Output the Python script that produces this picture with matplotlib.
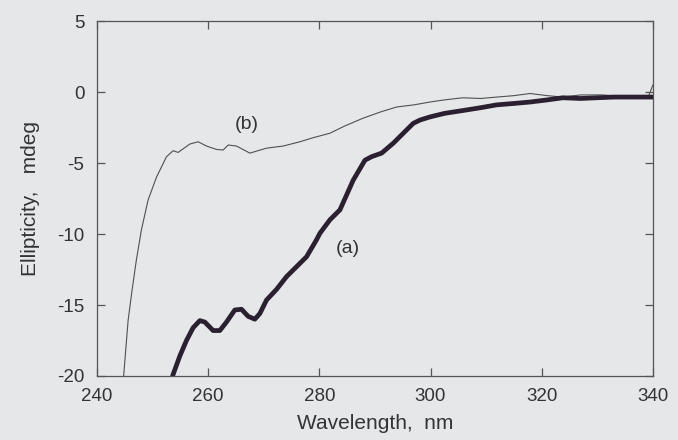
import numpy as np
import matplotlib
matplotlib.use("Agg")
import matplotlib.pyplot as plt

plt.rcParams['font.family'] = ['Liberation Sans', 'DejaVu Sans']
plt.rcParams['axes.unicode_minus'] = False

# curve (a), thick
a_x = [253.6, 254.9, 256.1, 257.3, 258.5, 259.4, 260.9, 262.1, 263.3, 264.8, 266.0, 267.2,
       268.4, 269.3, 270.5, 272.3, 274.1, 275.9, 277.7, 279.5, 280.1, 281.9, 283.7, 286.1,
       288.2, 289.4, 291.2, 293.3, 295.1, 296.9, 298.1, 299.9, 302.5, 305.8, 309.0, 311.9,
       315.0, 317.9, 321.0, 323.8, 327.0, 329.9, 333.0, 336.0, 339.5, 340.0]
a_y = [-20.0, -18.6, -17.5, -16.6, -16.1, -16.2, -16.8, -16.8, -16.2, -15.35, -15.3, -15.8,
       -16.0, -15.6, -14.65, -13.9, -13.0, -12.3, -11.6, -10.4, -9.95, -9.0, -8.3, -6.2,
       -4.8, -4.55, -4.3, -3.6, -2.9, -2.2, -1.97, -1.75, -1.5, -1.3, -1.1, -0.9,
       -0.8, -0.7, -0.55, -0.4, -0.45, -0.4, -0.35, -0.35, -0.35, -0.35]

# curve (b), thin
b_x = [244.8, 245.6, 246.3, 247.1, 248.0, 249.2, 250.7, 252.5, 253.7, 254.6, 256.7, 258.2,
       259.7, 261.5, 262.7, 263.6, 265.1, 267.5, 270.5, 273.5, 276.5, 279.0, 281.9, 284.5,
       287.8, 291.0, 293.9, 297.0, 299.9, 302.5, 305.8, 309.0, 311.9, 315.0, 317.9, 321.0,
       323.8, 327.0, 331.0, 334.0, 336.0, 338.2, 339.2, 340.0]
b_y = [-20.0, -16.1, -14.0, -11.8, -9.7, -7.6, -6.0, -4.56, -4.13, -4.25, -3.66, -3.5,
       -3.8, -4.04, -4.08, -3.73, -3.8, -4.3, -3.95, -3.8, -3.5, -3.2, -2.9, -2.4,
       -1.85, -1.4, -1.05, -0.9, -0.7, -0.55, -0.4, -0.45, -0.35, -0.25, -0.1, -0.25,
       -0.35, -0.2, -0.2, -0.3, -0.3, -0.35, -0.3, 0.5]

xticks = [240, 260, 280, 300, 320, 340]
yticks = [5, 0, -5, -10, -15, -20]

bg = '#e5e7e9'
fig = plt.figure(figsize=(6.78, 4.40), dpi=100, facecolor=bg)
ax = fig.add_axes([0.143, 0.1455, 0.820, 0.8065])
ax.set_facecolor(bg)

ax.plot(b_x, b_y, color='#505050', lw=0.8)
ax.plot(a_x, a_y, color='#2a2030', lw=3.4, solid_capstyle='round', solid_joinstyle='round')

ax.text(267, -2.3, '(b)', fontsize=14, ha='center', va='center', color='#333333')
ax.text(285.1, -11.0, '(a)', fontsize=14, ha='center', va='center', color='#333333')

ax.set_xlim(240, 340)
ax.set_ylim(-20, 5)
ax.set_xticks(xticks)
ax.set_yticks(yticks)
ax.tick_params(direction='in', length=6, width=0.9, colors='#555555', labelcolor='#333333',
               labelsize=13.5, top=True, right=True, pad=9)
for s in ax.spines.values():
    s.set_color('#555555')
    s.set_linewidth(0.9)

ax.set_xlabel('Wavelength,  nm', fontsize=15, color='#333333', labelpad=6)
ax.set_ylabel('Ellipticity,   mdeg', fontsize=15, color='#333333', labelpad=12)

fig.savefig('out.png', dpi=100, facecolor=bg)
